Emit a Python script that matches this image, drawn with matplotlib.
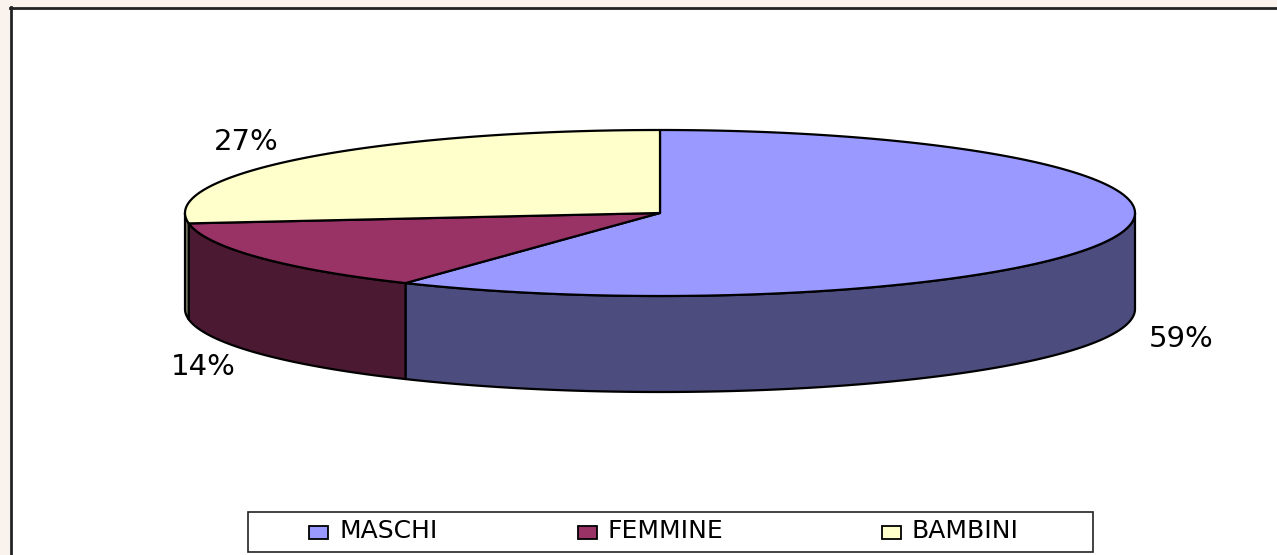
import numpy as np
import matplotlib
matplotlib.use("Agg")
import matplotlib.pyplot as plt
from matplotlib.patches import Polygon, Rectangle

plt.rcParams['font.family'] = ['DejaVu Sans']

labels = ["MASCHI", "FEMMINE", "BAMBINI"]
values = [59, 14, 27]
top_colors = ["#9999FF", "#993366", "#FFFFCC"]
side_colors = ["#4C4C7F", "#4C1933", "#7F7F66"]

W, H = 1277, 555
fig = plt.figure(figsize=(W / 100, H / 100), dpi=100, facecolor="#FAF2EC")
ax = fig.add_axes([0, 0, 1, 1])
ax.set_xlim(0, W)
ax.set_ylim(H, 0)
ax.axis("off")

# white chart area with dark border on top/left
ax.add_patch(Rectangle((10, 7), W, H, facecolor="white", edgecolor="none"))
ax.plot([10.5, 10.5], [7, H], color="#222222", lw=2)
ax.plot([10, W], [7.5, 7.5], color="#222222", lw=2)

# pie geometry (pixels)
cx, cy = 660, 213
a, b = 475, 83
depth = 96

def pt(t):
    return cx + a * np.sin(t), cy - b * np.cos(t)

fracs = np.array(values) / sum(values)
bounds = np.concatenate([[0], np.cumsum(fracs)]) * 2 * np.pi

# side walls (front half only)
for i in range(len(values)):
    t0 = max(bounds[i], np.pi / 2)
    t1 = min(bounds[i + 1], 3 * np.pi / 2)
    if t1 <= t0:
        continue
    t = np.linspace(t0, t1, 200)
    x, y = pt(t)
    xs = np.concatenate([x, x[::-1]])
    ys = np.concatenate([y, (y + depth)[::-1]])
    ax.add_patch(Polygon(np.column_stack([xs, ys]), closed=True,
                         facecolor=side_colors[i], edgecolor="black", lw=1.6,
                         joinstyle="round"))

# top faces
for i in range(len(values)):
    t = np.linspace(bounds[i], bounds[i + 1], 300)
    x, y = pt(t)
    xs = np.concatenate([[cx], x])
    ys = np.concatenate([[cy], y])
    ax.add_patch(Polygon(np.column_stack([xs, ys]), closed=True,
                         facecolor=top_colors[i], edgecolor="black", lw=1.6,
                         joinstyle="round"))

# percentage labels
for i in range(len(values)):
    tm = (bounds[i] + bounds[i + 1]) / 2
    lx = cx + a * 1.16 * np.sin(tm)
    ly = cy - b * 1.3 * np.cos(tm)
    if np.cos(tm) < 0:
        ly += depth
        lx -= 8 * np.sign(np.sin(tm))
    ax.text(lx, ly, f"{values[i]}%", fontsize=21, ha="center", va="center",
            color="black")

# legend box
ax.add_patch(Rectangle((248, 512), 845, 40, facecolor="white",
                       edgecolor="#222222", lw=1.2))
marker_x = [309, 578, 882]
for i in range(len(labels)):
    ax.add_patch(Rectangle((marker_x[i], 526), 19, 13, facecolor=top_colors[i],
                           edgecolor="black", lw=1.3))
    ax.text(marker_x[i] + 30, 531, labels[i], fontsize=18, ha="left",
            va="center", color="black")

fig.savefig("out.png", dpi=100, facecolor=fig.get_facecolor())
